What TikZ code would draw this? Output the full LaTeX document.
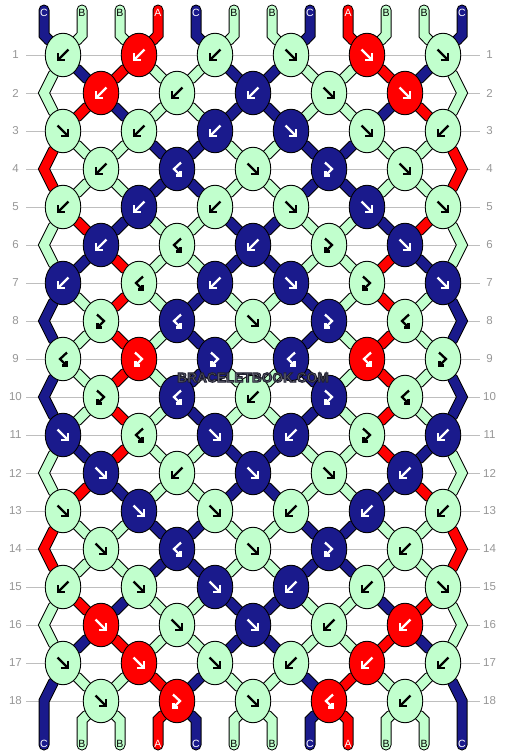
\documentclass[tikz,border=0pt]{standalone}
\usepackage{fontspec}
\setmainfont{Liberation Sans}
\usetikzlibrary{shapes.geometric}
\definecolor{colA}{RGB}{255,0,0}
\definecolor{colB}{RGB}{193,255,205}
\definecolor{colC}{RGB}{26,26,140}
\definecolor{rowgray}{RGB}{190,190,190}
\definecolor{labgray}{RGB}{150,150,150}
\definecolor{wmark}{RGB}{100,100,115}
\pgfdeclarelayer{bg}
\pgfsetlayers{bg,main}
\def\letterB{B}
\newcommand\setst[2]{\expandafter\def\csname bst#1\endcsname{#2}}
\newcommand\setrw[2]{\expandafter\def\csname brw#1\endcsname{#2}}
\setst{0}{C,B,B,A,C,B,B,C,A,B,B,C}
\setst{1}{B,C,A,B,B,C,C,B,B,A,C,B}
\setst{2}{B,A,C,B,B,C,C,B,B,C,A,B}
\setst{3}{A,B,B,C,C,B,B,C,C,B,B,A}
\setst{4}{A,B,B,C,C,B,B,C,C,B,B,A}
\setst{5}{B,A,C,B,B,C,C,B,B,C,A,B}
\setst{6}{B,C,A,B,B,C,C,B,B,A,C,B}
\setst{7}{C,B,A,B,C,B,B,C,B,A,B,C}
\setst{8}{C,B,A,B,C,B,B,C,B,A,B,C}
\setst{9}{C,B,A,B,C,B,B,C,B,A,B,C}
\setst{10}{C,B,A,B,C,B,B,C,B,A,B,C}
\setst{11}{B,C,A,B,B,C,C,B,B,A,C,B}
\setst{12}{B,A,C,B,B,C,C,B,B,C,A,B}
\setst{13}{A,B,B,C,C,B,B,C,C,B,B,A}
\setst{14}{A,B,B,C,C,B,B,C,C,B,B,A}
\setst{15}{B,A,C,B,B,C,C,B,B,C,A,B}
\setst{16}{B,C,A,B,B,C,C,B,B,A,C,B}
\setst{17}{C,B,B,A,C,B,B,C,A,B,B,C}
\setst{18}{C,B,B,A,C,B,B,C,A,B,B,C}
\setrw{1}{b/B,b/A,b/B,f/B,f/A,f/B}
\setrw{2}{b/A,b/B,b/C,f/B,f/A}
\setrw{3}{f/B,b/B,b/C,f/C,f/B,b/B}
\setrw{4}{b/B,h/C,f/B,g/C,f/B}
\setrw{5}{b/B,b/C,b/B,f/B,f/C,f/B}
\setrw{6}{b/C,h/B,b/C,g/B,f/C}
\setrw{7}{b/C,h/B,b/C,f/C,g/B,f/C}
\setrw{8}{g/B,h/C,f/B,g/C,h/B}
\setrw{9}{h/B,g/A,g/C,h/C,h/A,g/B}
\setrw{10}{g/B,h/C,b/B,g/C,h/B}
\setrw{11}{f/C,h/B,f/C,b/C,g/B,b/C}
\setrw{12}{f/C,b/B,f/C,f/B,b/C}
\setrw{13}{f/B,f/C,f/B,b/B,b/C,b/B}
\setrw{14}{f/B,h/C,f/B,g/C,b/B}
\setrw{15}{b/B,f/B,f/C,b/C,b/B,f/B}
\setrw{16}{f/A,f/B,f/C,b/B,b/A}
\setrw{17}{f/B,f/A,f/B,b/B,b/A,b/B}
\setrw{18}{f/B,g/A,f/B,h/A,b/B}
\newcommand\ptname[3]{%
  \ifodd#2\relax
    \pgfmathtruncatemacro\tmpk{floor(#3/2)}\edef#1{k#2-\tmpk}%
  \else
    \ifnum#3=0\relax \edef#1{eL#2}%
    \else\ifnum#3=11\relax \edef#1{eR#2}%
    \else \pgfmathtruncatemacro\tmpk{floor((#3-1)/2)}\edef#1{k#2-\tmpk}%
    \fi\fi
  \fi}
\newcommand\drawstrings[1]{%
 \foreach \rr in {0,...,18}{%
  \pgfmathtruncatemacro\rn{\rr+1}%
  \pgfmathtruncatemacro\rnn{\rr+2}%
  \expandafter\let\expandafter\strow\csname bst\rr\endcsname
  \foreach \scol [count=\pidx from 0] in \strow {%
   \ifnum#1=0\relax \def\mysc{black}\def\mysw{11pt}\else\edef\mysc{col\scol}\def\mysw{9pt}\fi
   \ifnum\rr=0\relax
     \ptname\ptB{1}{\pidx}%
     \draw[strand,line width=\mysw,draw=\mysc] (tt\pidx) -- (t\pidx) -- (\ptB);
   \else\ifnum\rr=18\relax
     \ifnum\pidx=0\relax\else\ifnum\pidx=11\relax\else
       \ptname\ptA{18}{\pidx}%
       \draw[strand,line width=\mysw,draw=\mysc] (\ptA) -- (b\pidx) -- (bb\pidx);
     \fi\fi
   \else\ifodd\rr\relax
     \ifnum\pidx=0\relax
       \ifnum\rr=17\relax \draw[strand,line width=\mysw,draw=\mysc] (k17-0) -- (eL18) -- (b0) -- (bb0);
       \else \draw[strand,line width=\mysw,draw=\mysc] (k\rr-0) -- (eL\rn) -- (k\rnn-0); \fi
     \else\ifnum\pidx=11\relax
       \ifnum\rr=17\relax \draw[strand,line width=\mysw,draw=\mysc] (k17-5) -- (eR18) -- (b11) -- (bb11);
       \else \draw[strand,line width=\mysw,draw=\mysc] (k\rr-5) -- (eR\rn) -- (k\rnn-5); \fi
     \else
       \ptname\ptA{\rr}{\pidx}\ptname\ptB{\rn}{\pidx}%
       \draw[strand,line width=\mysw,draw=\mysc] (\ptA) -- (\ptB);
     \fi\fi
   \else
     \ifnum\pidx=0\relax\else\ifnum\pidx=11\relax\else
       \ptname\ptA{\rr}{\pidx}\ptname\ptB{\rn}{\pidx}%
       \draw[strand,line width=\mysw,draw=\mysc] (\ptA) -- (\ptB);
     \fi\fi
   \fi\fi\fi
  }}}
\tikzset{
  strand/.style={line cap=round,line join=miter},
  knot/.style={ellipse,draw=black,line width=0.9pt,minimum width=35.5pt,minimum height=43.5pt,inner sep=0pt},
  glyph/.style={line width=2.3pt,line join=miter,line cap=butt},
  rowlab/.style={font=\fontsize{11.5}{12}\selectfont,text=labgray,inner sep=0pt},
  slab/.style={font=\fontsize{10.5}{11}\selectfont,inner sep=0pt},
  wm/.style={font=\fontsize{13.7}{14}\selectfont\bfseries,inner sep=0pt},
  rowline/.style={draw=rowgray,line width=1pt},
  pics/knotf/.style={code={\draw[glyph] (-5.5,-5.5) -- (4.3,4.3); \draw[glyph] (5,-1.8) -- (5,5) -- (-1.8,5);}},
  pics/knotb/.style={code={\draw[glyph] (5.5,-5.5) -- (-4.3,4.3); \draw[glyph] (-5,-1.8) -- (-5,5) -- (1.8,5);}},
  pics/knotg/.style={code={\draw[glyph] (-4,-6.5) -- (3,0) -- (-2.8,5.8); \draw[glyph] (-3.6,1.8) -- (-3.6,6.6) -- (1,6.6);}},
  pics/knoth/.style={code={\draw[glyph] (4,-6.5) -- (-3,0) -- (2.8,5.8); \draw[glyph] (3.6,1.8) -- (3.6,6.6) -- (-1,6.6);}},
}
\begin{document}
\begin{tikzpicture}[x=1pt,y=-1pt]
\useasboundingbox (0,0) rectangle (506,756);
% knots
\foreach \rr in {1,...,18}{%
  \pgfmathsetmacro\ky{55+38*(\rr-1)}%
  \ifodd\rr\relax\def\kx{63}\else\def\kx{101}\fi
  \expandafter\let\expandafter\rowdata\csname brw\rr\endcsname
  \foreach \ktype/\scol [count=\kidx from 0] in \rowdata {%
    \edef\tmpc{\scol}%
    \ifx\tmpc\letterB \def\gc{black}\else\def\gc{white}\fi
    \node[knot,fill=col\scol] (k\rr-\kidx) at ({\kx+76*\kidx},\ky) {};
    \pic[color=\gc] at (k\rr-\kidx.center) {knot\ktype};
  }
  \node[rowlab] (ll\rr) at (15.5,\ky) {\rr};
  \node[rowlab] (rl\rr) at (489.5,\ky) {\rr};
}
% edge and end coordinates
\foreach \rr in {2,4,...,18}{%
  \coordinate (eL\rr) at (44,{55+38*(\rr-1)});
  \coordinate (eR\rr) at (462,{55+38*(\rr-1)});
}
\foreach \pidx in {0,...,11}{%
  \coordinate (tt\pidx) at ({44+38*\pidx},10);
  \coordinate (t\pidx) at ({44+38*\pidx},35);
  \coordinate (b\pidx) at ({44+38*\pidx},720);
  \coordinate (bb\pidx) at ({44+38*\pidx},745);
}
\begin{pgfonlayer}{bg}
  \foreach \rr in {1,...,18}{%
    \draw[rowline] (26,{55+38*(\rr-1)}) -- (480,{55+38*(\rr-1)});
  }
  \drawstrings{0}
  \drawstrings{1}
\end{pgfonlayer}
% string labels
\foreach \scol [count=\pidx from 0] in {C,B,B,A,C,B,B,C,A,B,B,C}{%
  \edef\tmpc{\scol}%
  \ifx\tmpc\letterB \def\gc{black}\else\def\gc{white}\fi
  \node[slab,text=\gc] (tl\pidx) at ({44+38*\pidx},12.5) {\scol};
  \node[slab,text=\gc] (bl\pidx) at ({44+38*\pidx},743.5) {\scol};
}
% watermark: grey fill with a dark outline
\node[wm,text=wmark] (wm) at (253,377.5) {\special{pdf:literal direct 2 Tr 0.9 w 0.12 0.12 0.18 RG}BRACELETBOOK.COM\special{pdf:literal direct 0 Tr}};
\end{tikzpicture}
\end{document}
